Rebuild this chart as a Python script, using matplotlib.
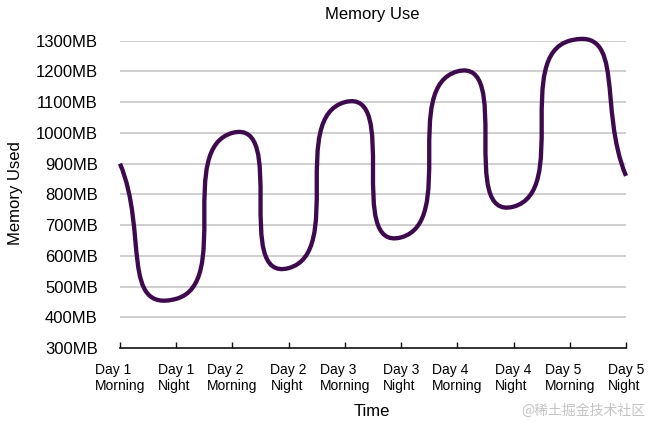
import numpy as np
import matplotlib
matplotlib.use("Agg")
import matplotlib.pyplot as plt
from matplotlib.path import Path
from matplotlib.patches import PathPatch

plt.rcParams['font.family'] = ['Liberation Sans', 'DejaVu Sans']

# data
time_labels = ["Day 1\nMorning", "Day 1\nNight", "Day 2\nMorning", "Day 2\nNight",
               "Day 3\nMorning", "Day 3\nNight", "Day 4\nMorning", "Day 4\nNight",
               "Day 5\nMorning", "Day 5\nNight"]
memory_mb = [900, 460, 1000, 560, 1100, 660, 1200, 760, 1300, 860]
y_ticks = [300, 400, 500, 600, 700, 800, 900, 1000, 1100, 1200, 1300]

line_color = "#3e0a4e"
grid_color = "#c2c2c2"


def smooth_path(xs, ys, k=0.5):
    # cubic bezier through every point, handles along (next - prev)
    pts = np.column_stack([xs, ys]).astype(float)
    n = len(pts)
    tang = np.zeros_like(pts)
    for i in range(n):
        if i == 0:
            tang[i] = (pts[1] - pts[0]) * k
        elif i == n - 1:
            tang[i] = (pts[-1] - pts[-2]) * k
        else:
            tang[i] = (pts[i + 1] - pts[i - 1]) * k
    verts = [pts[0]]
    codes = [Path.MOVETO]
    for i in range(n - 1):
        verts += [pts[i] + tang[i], pts[i + 1] - tang[i + 1], pts[i + 1]]
        codes += [Path.CURVE4] * 3
    return Path(verts, codes)


fig = plt.figure(figsize=(6.5, 4.25), dpi=100)
ax = fig.add_axes([120 / 650, 1 - 348 / 425, 506 / 650, (348 - 40.7) / 425])

x = np.arange(len(memory_mb))
ax.set_xlim(0, len(memory_mb) - 1)
ax.set_ylim(y_ticks[0], y_ticks[-1])

for v in y_ticks[1:]:
    ax.axhline(v, color=grid_color, lw=1.1, zorder=1)

patch = PathPatch(smooth_path(x, memory_mb), facecolor="none", edgecolor=line_color,
                  lw=3.1, capstyle="butt", zorder=3, clip_on=False)
ax.add_patch(patch)

for s in ["top", "right", "left"]:
    ax.spines[s].set_visible(False)
ax.spines["bottom"].set_linewidth(1.2)
ax.spines["bottom"].set_color("#111111")

ax.set_yticks(y_ticks)
ax.set_yticklabels([f"{v}MB" for v in y_ticks], fontsize=12)
ax.tick_params(axis="y", length=0, pad=16)

ax.set_xticks(x)
ax.set_xticklabels(time_labels, fontsize=10, multialignment="left", linespacing=1.2)
ax.tick_params(axis="x", direction="in", length=4, width=1, pad=11, color="#111111")

fig.text(372 / 650, 1 - 14 / 425, "Memory Use", fontsize=12, ha="center", va="center")
fig.text(372 / 650, 1 - 412 / 425, "Time", fontsize=12, ha="center", va="center")
fig.text(16 / 650, 1 - 193 / 425, "Memory Used", fontsize=12, rotation=90,
         ha="center", va="center")
fig.text(645 / 650, 1 - 411 / 425, "@稀土掘金技术社区", fontsize=10, color="#c4c4c4",
         ha="right", va="center", family=["Noto Sans CJK SC", "DejaVu Sans"])

fig.savefig("out.png", dpi=100)
